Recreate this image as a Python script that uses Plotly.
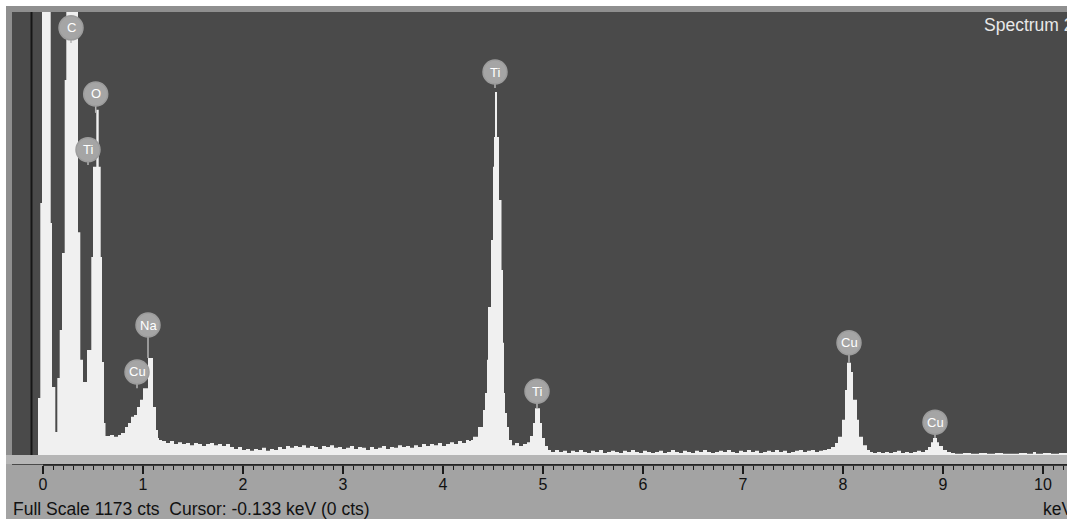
import plotly.graph_objects as go

# ---------------- spectrum data (step histogram: channel start energy in keV, counts) ----------------
low_keV = [-0.31, -0.05, -0.027, -0.01, 0.077, 0.09, 0.123, 0.143, 0.167, 0.19,
           0.217, 0.233, 0.35, 0.373, 0.40, 0.44, 0.483, 0.50, 0.533, 0.557,
           0.577, 0.59, 0.61, 0.625, 0.67, 0.71, 0.75, 0.78, 0.82, 0.85,
           0.88, 0.91, 0.94, 0.97, 1.00, 1.05, 1.10, 1.13]
low_cts = [0, 151, 667, 4000, 614, 180, 61, 204, 331, 535,
           993, 1800, 590, 252, 193, 278, 524, 763, 914, 763,
           524, 246, 85, 50, 53, 48, 53, 58, 74, 85,
           101, 106, 127, 146, 177, 257, 127, 66]

mid_keV = [1.15, 1.16, 1.19, 1.23, 1.27, 1.31, 1.35, 1.39, 1.43, 1.47,
           1.51, 1.55, 1.59, 1.63, 1.67, 1.71, 1.75, 1.79, 1.83, 1.87,
           1.91, 1.95, 1.99, 2.03, 2.07, 2.11, 2.15, 2.19, 2.23, 2.27,
           2.31, 2.35, 2.39, 2.43, 2.47, 2.51, 2.55, 2.59, 2.63, 2.67,
           2.71, 2.75, 2.79, 2.83, 2.87, 2.91, 2.95, 2.99, 3.03, 3.07,
           3.11, 3.15, 3.19, 3.23, 3.27, 3.31, 3.35, 3.39, 3.43, 3.47,
           3.51, 3.55, 3.59, 3.63, 3.67, 3.71, 3.75, 3.79, 3.83, 3.87,
           3.91, 3.95, 3.99, 4.03, 4.07, 4.11, 4.15, 4.19, 4.23, 4.26]
mid_cts = [45, 40, 37, 32, 37, 29, 34, 29, 32, 26,
           32, 29, 24, 29, 32, 26, 29, 24, 29, 21,
           16, 21, 13, 16, 11, 16, 13, 19, 11, 16,
           13, 21, 16, 24, 19, 24, 21, 26, 19, 24,
           21, 16, 24, 21, 26, 19, 21, 16, 19, 24,
           16, 21, 19, 13, 21, 16, 19, 24, 16, 21,
           19, 26, 21, 24, 19, 26, 21, 29, 24, 29,
           26, 32, 24, 29, 34, 29, 37, 32, 40, 37]

ti_keV = [4.28, 4.30, 4.35, 4.40, 4.42, 4.44, 4.45, 4.48, 4.50, 4.51,
          4.52, 4.54, 4.56, 4.585, 4.60, 4.61, 4.62, 4.64, 4.66, 4.69,
          4.72, 4.76, 4.80, 4.84, 4.87, 4.90, 4.92, 4.97, 4.99, 5.02]
ti_cts = [40, 48, 74, 119, 164, 252, 392, 569, 763, 842,
          961, 842, 675, 490, 297, 164, 111, 74, 40, 26,
          32, 24, 29, 34, 50, 85, 124, 85, 45, 24]

hi_keV = [5.05, 5.08, 5.12, 5.16, 5.20, 5.24, 5.28, 5.32, 5.36, 5.40,
          5.44, 5.48, 5.52, 5.56, 5.60, 5.64, 5.68, 5.72, 5.76, 5.80,
          5.84, 5.88, 5.92, 5.96, 6.00, 6.04, 6.08, 6.12, 6.16, 6.20,
          6.24, 6.28, 6.32, 6.36, 6.40, 6.44, 6.48, 6.52, 6.56, 6.60,
          6.64, 6.68, 6.72, 6.76, 6.80, 6.84, 6.88, 6.92, 6.96, 7.00,
          7.04, 7.08, 7.12, 7.16, 7.20, 7.24, 7.28, 7.32, 7.36, 7.40,
          7.44, 7.48, 7.52, 7.56, 7.60, 7.64, 7.68, 7.72, 7.76, 7.80]
hi_cts = [13, 8, 13, 8, 11, 5, 11, 8, 13, 8,
          5, 11, 8, 13, 5, 8, 11, 8, 5, 11,
          8, 13, 8, 5, 11, 8, 5, 8, 11, 5,
          8, 13, 8, 5, 11, 8, 5, 11, 8, 13,
          8, 5, 8, 11, 8, 13, 8, 5, 11, 8,
          13, 8, 11, 5, 8, 11, 8, 13, 8, 11,
          5, 8, 11, 13, 8, 11, 13, 8, 11, 13]

cu_keV = [7.84, 7.88, 7.92, 7.95, 7.99, 8.02, 8.04, 8.08, 8.10, 8.14,
          8.16, 8.20, 8.24, 8.27, 8.30, 8.34, 8.38, 8.42, 8.46, 8.50,
          8.54, 8.58, 8.62, 8.66, 8.70, 8.74, 8.78, 8.82, 8.85, 8.88,
          8.90, 8.94, 8.96, 9.00, 9.04, 9.08]
cu_cts = [16, 21, 32, 48, 93, 172, 244, 220, 146, 93,
          48, 26, 13, 8, 5, 8, 5, 8, 5, 8,
          11, 5, 8, 5, 8, 11, 8, 13, 21, 34,
          45, 34, 24, 13, 8, 5]

tail_keV = [9.12, 9.20, 9.28, 9.36, 9.44, 9.52, 9.60, 9.68, 9.76, 9.84,
            9.90, 9.93, 10.00, 10.08, 10.16, 10.30]
tail_cts = [3, 5, 3, 5, 3, 5, 3, 3, 5, 3,
            8, 3, 5, 3, 5, 5]

# ---------------- peak labels ----------------
label_text = ["C", "O", "Ti", "Na", "Cu", "Ti", "Ti", "Cu", "Cu"]
label_keV = [0.28, 0.527, 0.45, 1.05, 0.94, 4.52, 4.94, 8.06, 8.92]
label_cts = [1131, 956, 808, 344, 220, 1014, 169, 297, 87]
stem_tip_cts = [1091, 906, 768, 257, 177, 972, 124, 244, 45]

tick_labels = ["0", "1", "2", "3", "4", "5", "6", "7", "8", "9", "10"]

full_scale = 1173
cursor_keV = -0.115
status_text = "Full Scale 1173 cts \u00a0Cursor: -0.133 keV (0 cts)"
spectrum_name = "Spectrum 2"

energy = low_keV + mid_keV + ti_keV + hi_keV + cu_keV + tail_keV
counts = low_cts + mid_cts + ti_cts + hi_cts + cu_cts + tail_cts

W, H = 1067, 519
ML, MT, MB = 12, 12, 54
PW = W - ML
PH = H - MT - MB
FONT = "Liberation Sans, Arial, sans-serif"


def px_x(px):
    return (px - ML) / PW


def px_y(py):
    return (H - MB - py) / PH


fig = go.Figure()
fig.add_trace(go.Scatter(
    x=energy, y=counts, mode="lines",
    line=dict(shape="hv", width=0, color="#f0f0f0"),
    fill="tozeroy", fillcolor="#f0f0f0", hoverinfo="skip", showlegend=False,
))

shapes = []
# outer white border and grey frame
shapes.append(dict(type="rect", xref="paper", yref="paper", x0=px_x(0), x1=1.01,
                   y0=px_y(6), y1=px_y(0), fillcolor="white", line_width=0, layer="above"))
shapes.append(dict(type="rect", xref="paper", yref="paper", x0=px_x(0), x1=px_x(6),
                   y0=px_y(H), y1=px_y(0), fillcolor="white", line_width=0, layer="above"))
shapes.append(dict(type="rect", xref="paper", yref="paper", x0=px_x(6), x1=1.01,
                   y0=px_y(12), y1=px_y(6), fillcolor="#8f8f8f", line_width=0, layer="above"))
shapes.append(dict(type="rect", xref="paper", yref="paper", x0=px_x(6), x1=px_x(12),
                   y0=px_y(455), y1=px_y(12), fillcolor="#8f8f8f", line_width=0, layer="above"))
# light strip under the spectrum baseline
shapes.append(dict(type="rect", xref="paper", yref="paper", x0=px_x(6), x1=1.01,
                   y0=px_y(464), y1=px_y(455), fillcolor="#b6b6b6", line_width=0, layer="above"))
# axis line from 0 keV
shapes.append(dict(type="line", xref="x", yref="paper", x0=0, x1=10.4, y0=0, y1=0,
                   line=dict(color="#1a1a1a", width=1.5), layer="above"))
# cursor line
shapes.append(dict(type="line", xref="x", yref="y", x0=cursor_keV, x1=cursor_keV,
                   y0=0, y1=full_scale, line=dict(color="#161616", width=2), layer="below"))

annotations = []
for t, e, c, tip in zip(label_text, label_keV, label_cts, stem_tip_cts):
    shapes.append(dict(type="line", xref="x", yref="y", x0=e, x1=e, y0=c, y1=tip,
                       line=dict(color="#b4b4b4", width=1.5), layer="above"))
    shapes.append(dict(type="circle", xref="x", yref="y", xsizemode="pixel", ysizemode="pixel",
                       xanchor=e, yanchor=c, x0=-12, x1=12, y0=-12, y1=12,
                       fillcolor="#a5a5a5", line=dict(color="#9c9c9c", width=1.5), layer="above"))
    annotations.append(dict(x=e, y=c, xref="x", yref="y", text=t, showarrow=False,
                            font=dict(family=FONT, size=13, color="white"),
                            xanchor="center", yanchor="middle"))

annotations.append(dict(x=px_x(982), y=px_y(25), xref="paper", yref="paper", text=spectrum_name,
                        showarrow=False, xanchor="left", yanchor="middle",
                        font=dict(family=FONT, size=17.5, color="#e8e8e8")))
annotations.append(dict(x=px_x(11), y=px_y(509), xref="paper", yref="paper", text=status_text,
                        showarrow=False, xanchor="left", yanchor="middle",
                        font=dict(family=FONT, size=17.5, color="#111111")))
annotations.append(dict(x=px_x(1041), y=px_y(509), xref="paper", yref="paper", text="keV",
                        showarrow=False, xanchor="left", yanchor="middle",
                        font=dict(family=FONT, size=17.5, color="#111111")))

minor_vals = [i / 10 for i in range(1, 103) if i % 10 != 0]

fig.update_layout(
    width=W, height=H,
    margin=dict(l=ML, r=0, t=MT, b=MB, pad=0),
    paper_bgcolor="#a3a3a3",
    plot_bgcolor="#4a4a4a",
    showlegend=False,
    shapes=shapes,
    annotations=annotations,
    xaxis=dict(
        range=[-0.31, 10.24], showgrid=False, zeroline=False, showline=False,
        tickmode="array", tickvals=list(range(11)), ticktext=tick_labels,
        ticks="outside", ticklen=8, tickwidth=1.5, tickcolor="#1a1a1a",
        ticklabelstandoff=-3,
        tickfont=dict(family=FONT, size=16, color="#111111"),
        minor=dict(tickmode="array", tickvals=minor_vals, ticks="outside", ticklen=4,
                   tickwidth=1, tickcolor="#1a1a1a", showgrid=False),
        fixedrange=True,
    ),
    yaxis=dict(range=[-26.5, full_scale], visible=False, showgrid=False, zeroline=False,
               fixedrange=True),
)

fig.write_html(
    "out.html",
    config={"displayModeBar": False},
    post_script="document.body.style.margin='0px';document.body.style.overflow='hidden';",
)
